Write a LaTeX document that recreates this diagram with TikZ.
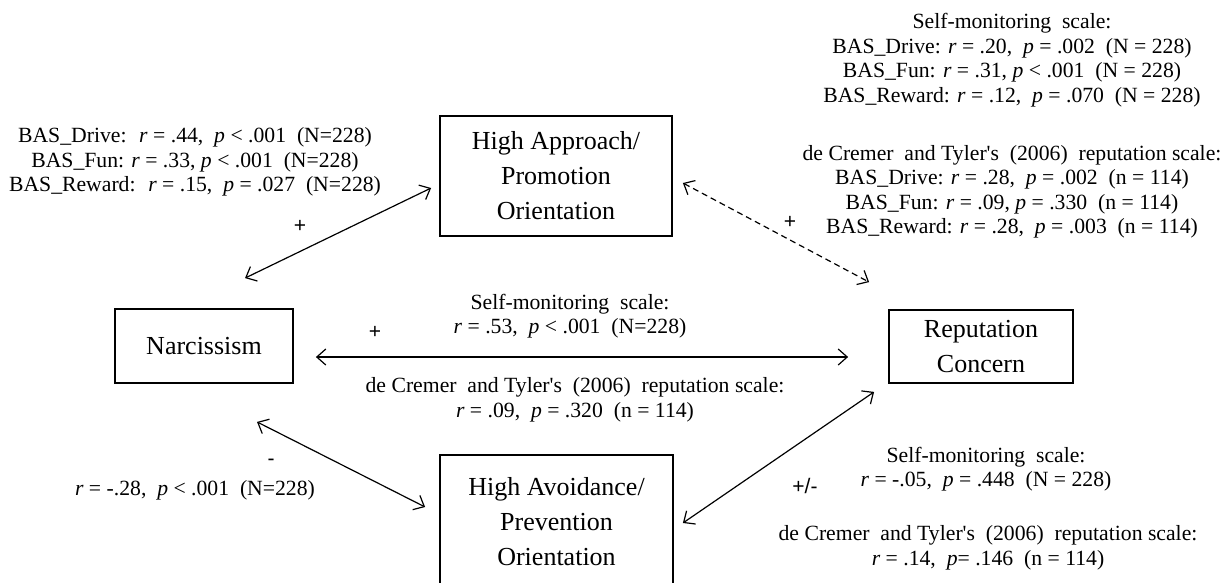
\documentclass[tikz,border=0pt]{standalone}
\usepackage{fontspec}
\setmainfont{Liberation Serif}
\newfontfamily\signfont{Liberation Sans}
\usetikzlibrary{arrows.meta}

\begin{document}
\begin{tikzpicture}[x=1pt, y=1pt,
  box/.style={draw, line width=1.8pt, inner sep=0pt, align=center, font=\fontsize{26}{35}\selectfont},
  stat/.style={align=center, inner sep=0pt, font=\fontsize{21.7}{24.5}\selectfont},
  sign/.style={inner sep=0pt, font=\signfont\fontsize{21}{21}\selectfont},
  link/.style={line width=1.2pt, {Straight Barb[length=9pt,width=16pt]}-{Straight Barb[length=9pt,width=16pt]}}]
  \clip (0,0) rectangle (1231,-582);

  % boxes
  \node[box, minimum width=232, minimum height=120] (app) at (556,-176) {High Approach/\\Promotion\\Orientation};
  \node[box, minimum width=178, minimum height=74] (nar) at (204,-346) {Narcissism};
  \node[box, minimum width=184, minimum height=73] (rep) at (981,-346.5) {Reputation\\Concern};
  \node[box, minimum width=233, minimum height=134] (avo) at (556.5,-522) {High Avoidance/\\Prevention\\Orientation};

  % links between boxes
  \draw[link] ([shift={(41,30)}]nar.north) -- ([shift={(-8,-12)}]app.west);
  \draw[link, dash pattern=on 6pt off 4pt] ([shift={(10,-7)}]app.east) -- ([shift={(-19,27)}]rep.north west);
  \draw[link] ([shift={(22,-11)}]nar.east) -- ([shift={(-40,-10.5)}]rep.west);
  \draw[link] ([shift={(53,-38)}]nar.south) -- ([shift={(-14,15)}]avo.west);
  \draw[link] ([shift={(9,-1)}]avo.east) -- ([shift={(-14,-8)}]rep.south west);

  % signs
  \node[sign] (s1) at (300,-226) {+};
  \node[sign] (s2) at (790,-222) {+};
  \node[sign] (s3) at (375,-332) {+};
  \node[sign] (s4) at (271,-462) {-};
  \node[sign] (s5) at (805,-486) {+/-};

  % narcissism - approach
  \node[stat] (t1) at (195,-162) {BAS\_Drive:~ \textit{r} = .44,~ \textit{p} < .001~ (N=228)\\
    BAS\_Fun: \textit{r} = .33, \textit{p} < .001~ (N=228)\\
    BAS\_Reward:~ \textit{r} = .15,~ \textit{p} = .027~ (N=228)};

  % approach - reputation
  \node[stat] (t2) at (1012,-60) {Self-monitoring~ scale:\\
    BAS\_Drive: \textit{r} = .20,~ \textit{p} = .002~ (N = 228)\\
    BAS\_Fun: \textit{r} = .31, \textit{p} < .001~ (N = 228)\\
    BAS\_Reward: \textit{r} = .12,~ \textit{p} = .070~ (N = 228)};
  \node[stat] (t3) at (1012,-192) {de Cremer~ and Tyler\textquotesingle s~ (2006)~ reputation scale:\\
    BAS\_Drive: \textit{r} = .28,~ \textit{p} = .002~ (n = 114)\\
    BAS\_Fun: \textit{r} = .09, \textit{p} = .330~ (n = 114)\\
    BAS\_Reward: \textit{r} = .28,~ \textit{p} = .003~ (n = 114)};

  % narcissism - reputation
  \node[stat] (t4) at (570,-316) {Self-monitoring~ scale:\\
    \textit{r} = .53,~ \textit{p} < .001~ (N=228)};
  \node[stat] (t5) at (575,-400) {de Cremer~ and Tyler\textquotesingle s~ (2006)~ reputation scale:\\
    \textit{r} = .09,~ \textit{p} = .320~ (n = 114)};

  % narcissism - avoidance
  \node[stat] (t6) at (195,-490) {\textit{r} = -.28,~ \textit{p} < .001~ (N=228)};

  % avoidance - reputation
  \node[stat] (t7) at (986,-469) {Self-monitoring~ scale:\\
    \textit{r} = -.05,~ \textit{p} = .448~ (N = 228)};
  \node[stat] (t8) at (988,-548) {de Cremer~ and Tyler\textquotesingle s~ (2006)~ reputation scale:\\
    \textit{r} = .14,~ \textit{p}= .146~ (n = 114)};
\end{tikzpicture}
\end{document}
